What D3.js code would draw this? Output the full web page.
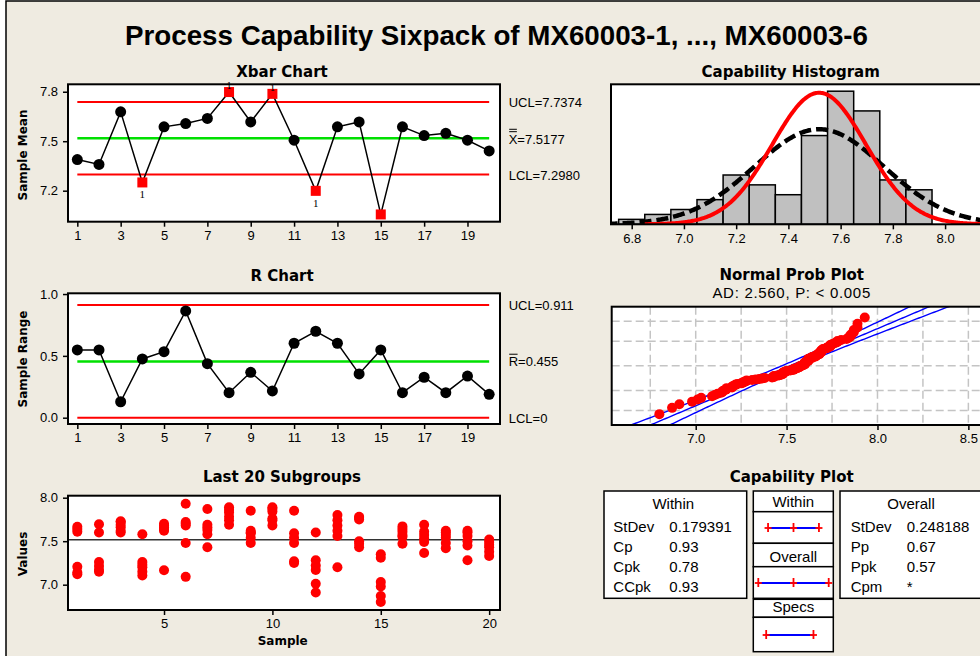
<!DOCTYPE html>
<html>
<head>
<meta charset="utf-8">
<script src="https://cdn.jsdelivr.net/npm/d3@7"></script>
<style>
  html, body { margin: 0; padding: 0; background: #fff; }
  svg { display: block; }
</style>
</head>
<body>
<svg id="chart" width="980" height="656"></svg>
<script>
// ---------------- data ----------------
const sampleNumbers = d3.range(1, 21);
const xbarValues = [7.389, 7.359, 7.678, 7.250, 7.587, 7.607, 7.638, 7.798, 7.617, 7.787,
                    7.506, 7.199, 7.587, 7.617, 7.056, 7.587, 7.534, 7.548, 7.506, 7.441];
const rangeValues = [0.548, 0.548, 0.129, 0.475, 0.534, 0.863, 0.437, 0.202, 0.367, 0.216,
                     0.602, 0.699, 0.602, 0.354, 0.548, 0.202, 0.327, 0.202, 0.337, 0.189];
const xbarUCL = 7.7374, xbarCenter = 7.5177, xbarLCL = 7.2980;
const rUCL = 0.911, rCenter = 0.455, rLCL = 0;

// six measurements (MX60003-1 ... MX60003-6) per subgroup
const subgroupValues = [
  [7.665, 7.64, 7.61, 7.205, 7.14, 7.12],
  [7.695, 7.60, 7.26, 7.215, 7.17, 7.148],
  [7.73, 7.72, 7.69, 7.66, 7.62, 7.60],
  [7.58, 7.26, 7.23, 7.20, 7.15, 7.105],
  [7.70, 7.68, 7.66, 7.64, 7.62, 7.166],
  [7.93, 7.72, 7.70, 7.68, 7.48, 7.09],
  [7.87, 7.69, 7.66, 7.63, 7.58, 7.43],
  [7.89, 7.86, 7.83, 7.78, 7.74, 7.69],
  [7.85, 7.62, 7.60, 7.59, 7.54, 7.48],
  [7.89, 7.87, 7.84, 7.76, 7.74, 7.68],
  [7.85, 7.59, 7.54, 7.48, 7.27, 7.25],
  [7.60, 7.28, 7.22, 7.17, 7.01, 6.91],
  [7.80, 7.74, 7.68, 7.62, 7.56, 7.20],
  [7.78, 7.77, 7.75, 7.50, 7.47, 7.43],
  [7.35, 7.31, 7.03, 6.98, 6.87, 6.80],
  [7.67, 7.64, 7.61, 7.57, 7.55, 7.47],
  [7.69, 7.61, 7.57, 7.53, 7.49, 7.365],
  [7.62, 7.60, 7.57, 7.54, 7.48, 7.42],
  [7.62, 7.60, 7.56, 7.50, 7.45, 7.28],
  [7.52, 7.49, 7.46, 7.43, 7.38, 7.33]
];

const histBinStart = 6.75;
const histBinWidth = 0.1;
const histCounts = [1, 2, 3, 5, 10, 8, 6, 18, 27, 23, 9, 7];

const processMean = 7.5177;
const withinStDev = 0.179391;
const overallStDev = 0.248188;
const specLSL = 6.94, specUSL = 7.94;

const withinStats = [["StDev", "0.179391"], ["Cp", "0.93"], ["Cpk", "0.78"], ["CCpk", "0.93"]];
const overallStats = [["StDev", "0.248188"], ["Pp", "0.67"], ["Ppk", "0.57"], ["Cpm", "*"]];

const xbarTicks = [1, 3, 5, 7, 9, 11, 13, 15, 17, 19];
const xbarYTicks = [7.2, 7.5, 7.8];
const rYTicks = [0.0, 0.5, 1.0];
const last20XTicks = [5, 10, 15, 20];
const last20YTicks = [7.0, 7.5, 8.0];
const histTicks = [6.8, 7.0, 7.2, 7.4, 7.6, 7.8, 8.0];
const probTicks = [7.0, 7.5, 8.0, 8.5];
const probGridX = [6.75, 7.0, 7.25, 7.5, 7.75, 8.0, 8.25, 8.5];
const probGridPercents = [1, 10, 50, 90, 99];
const adText = "AD: 2.560, P: < 0.005";

// ---------------- helpers ----------------
const svg = d3.select("#chart");
const defs = svg.append("defs");
const TXT = "'Liberation Sans', Arial, sans-serif";
const BOLD = "'DejaVu Sans', Verdana, sans-serif";
const RED = "#ff0000", GREEN = "#00e000", BLUE = "#0000ff";

function invNorm(p) {
  const a = [-3.969683028665376e+01, 2.209460984245205e+02, -2.759285104469687e+02, 1.383577518672690e+02, -3.066479806614716e+01, 2.506628277459239e+00];
  const b = [-5.447609879822406e+01, 1.615858368580409e+02, -1.556989798598866e+02, 6.680131188771972e+01, -1.328068155288572e+01];
  const c = [-7.784894002430293e-03, -3.223964580411365e-01, -2.400758277161838e+00, -2.549732539343734e+00, 4.374664141464968e+00, 2.938163982698783e+00];
  const d = [7.784695709041462e-03, 3.224671290700398e-01, 2.445134137142996e+00, 3.754408661907416e+00];
  const pl = 0.02425, ph = 1 - pl;
  let q, r;
  if (p < pl) {
    q = Math.sqrt(-2 * Math.log(p));
    return (((((c[0]*q+c[1])*q+c[2])*q+c[3])*q+c[4])*q+c[5]) / ((((d[0]*q+d[1])*q+d[2])*q+d[3])*q+1);
  }
  if (p <= ph) {
    q = p - 0.5; r = q * q;
    return (((((a[0]*r+a[1])*r+a[2])*r+a[3])*r+a[4])*r+a[5])*q / (((((b[0]*r+b[1])*r+b[2])*r+b[3])*r+b[4])*r+1);
  }
  q = Math.sqrt(-2 * Math.log(1 - p));
  return -(((((c[0]*q+c[1])*q+c[2])*q+c[3])*q+c[4])*q+c[5]) / ((((d[0]*q+d[1])*q+d[2])*q+d[3])*q+1);
}
const normPdf = (x, m, s) => Math.exp(-0.5 * ((x - m) / s) ** 2) / (s * Math.sqrt(2 * Math.PI));

let clipId = 0;
function panel(b) {
  const id = "clip" + (clipId++);
  defs.append("clipPath").attr("id", id).append("rect")
    .attr("x", b.x0).attr("y", b.y0).attr("width", b.x1 - b.x0).attr("height", b.y1 - b.y0);
  svg.append("rect").attr("x", b.x0).attr("y", b.y0).attr("width", b.x1 - b.x0).attr("height", b.y1 - b.y0)
    .attr("fill", "#fff");
  return svg.append("g").attr("clip-path", `url(#${id})`);
}
function border(b) {
  svg.append("rect").attr("x", b.x0).attr("y", b.y0).attr("width", b.x1 - b.x0).attr("height", b.y1 - b.y0)
    .attr("fill", "none").attr("stroke", "#000").attr("stroke-width", 2);
}
function styleAxis(a) {
  a.select(".domain").remove();
  a.selectAll("line").attr("stroke", "#000").attr("stroke-width", 1.5);
  a.selectAll("text").attr("font-family", TXT).attr("font-size", 13).attr("fill", "#000");
}
function bottomAxis(scale, ticks, y, fmt) {
  const a = svg.append("g").attr("transform", `translate(0,${y})`)
    .call(d3.axisBottom(scale).tickValues(ticks).tickSize(5).tickSizeOuter(0).tickPadding(4).tickFormat(fmt));
  styleAxis(a);
}
function leftAxis(scale, ticks, x, fmt) {
  const a = svg.append("g").attr("transform", `translate(${x},0)`)
    .call(d3.axisLeft(scale).tickValues(ticks).tickSize(5).tickSizeOuter(0).tickPadding(5).tickFormat(fmt));
  styleAxis(a);
}
function title(text, x, y) {
  svg.append("text").attr("x", x).attr("y", y).attr("text-anchor", "middle")
    .attr("font-family", BOLD).attr("font-weight", "bold").attr("font-size", 15).text(text);
}
function yLabel(text, cy) {
  svg.append("text").attr("transform", `translate(27,${cy}) rotate(-90)`).attr("text-anchor", "middle")
    .attr("font-family", BOLD).attr("font-weight", "bold").attr("font-size", 12).text(text);
}
function plainText(text, x, y, size, anchor) {
  return svg.append("text").attr("x", x).attr("y", y).attr("text-anchor", anchor || "start")
    .attr("font-family", TXT).attr("font-size", size).attr("fill", "#000").text(text);
}
// label with a bar (or double bar) over its first letter
function barredLabel(letter, rest, x, y, bars) {
  const t = plainText(letter, x, y, 13);
  const w = t.node().getComputedTextLength();
  plainText(rest, x + w, y, 13);
  for (let i = 0; i < bars; i++) {
    const yy = y - 12.2 - i * 2.4;
    svg.append("line").attr("x1", x + 0.5).attr("x2", x + w - 0.5).attr("y1", yy).attr("y2", yy)
      .attr("stroke", "#000").attr("stroke-width", 1);
  }
}

// ---------------- background ----------------
svg.append("rect").attr("x", 6).attr("y", 1).attr("width", 1000).attr("height", 700)
  .attr("fill", "#efebe1").attr("stroke", "#000").attr("stroke-width", 1.5);

svg.append("text").attr("x", 496.5).attr("y", 45).attr("text-anchor", "middle")
  .attr("font-family", "'Liberation Sans Narrow', 'Liberation Sans', Arial, sans-serif")
  .attr("font-weight", "bold").attr("font-size", 28)
  .attr("textLength", 743).attr("lengthAdjust", "spacingAndGlyphs")
  .text("Process Capability Sixpack of MX60003-1, ..., MX60003-6");

// shared sample scale
const xS = d3.scaleLinear().domain([0.57, 20.5]).range([68, 500]);

// ---------------- Xbar chart ----------------
const xbB = { x0: 68, y0: 84.3, x1: 500, y1: 221.7 };
const yXb = d3.scaleLinear().domain([7.012, 7.845]).range([xbB.y1, xbB.y0]);
const gXb = panel(xbB);
[[xbarUCL, RED, 2], [xbarLCL, RED, 2], [xbarCenter, GREEN, 2.5]].forEach(([v, col, w]) => {
  gXb.append("line").attr("x1", xS(1)).attr("x2", xS(20)).attr("y1", yXb(v)).attr("y2", yXb(v))
    .attr("stroke", col).attr("stroke-width", w);
});
gXb.append("path").datum(xbarValues)
  .attr("d", d3.line().x((d, i) => xS(i + 1)).y(d => yXb(d)))
  .attr("fill", "none").attr("stroke", "#000").attr("stroke-width", 1.5);
const flagLabels = [];
xbarValues.forEach((v, i) => {
  const out = v > xbarUCL || v < xbarLCL;
  const cx = xS(i + 1), cy = yXb(v);
  if (out) {
    gXb.append("rect").attr("x", cx - 5).attr("y", cy - 5).attr("width", 10).attr("height", 10).attr("fill", RED);
    // test-1 flag, shown only where it fits within the plot frame
    const ly = v > xbarUCL ? cy - 3 : cy + 16;
    if (ly <= xbB.y1) flagLabels.push([cx, ly]);
  } else {
    gXb.append("circle").attr("cx", cx).attr("cy", cy).attr("r", 5.5).attr("fill", "#000");
  }
});
border(xbB);
flagLabels.forEach(([x, y]) => {
  svg.append("text").attr("x", x).attr("y", y)
    .attr("text-anchor", "middle").attr("font-family", "'Liberation Serif', serif").attr("font-size", 11)
    .text("1");
});
bottomAxis(xS, xbarTicks, xbB.y1, d3.format("d"));
leftAxis(yXb, xbarYTicks, xbB.x0, d3.format(".1f"));
title("Xbar Chart", 282, 77.3);
yLabel("Sample Mean", 155);
plainText("UCL=" + xbarUCL.toFixed(4), 508.7, yXb(xbarUCL) + 4.6, 13);
barredLabel("X", "=" + xbarCenter.toFixed(4), 508.7, yXb(xbarCenter) + 5.6, 2);
plainText("LCL=" + xbarLCL.toFixed(4), 508.7, yXb(xbarLCL) + 5.6, 13);

// ---------------- R chart ----------------
const rB = { x0: 68, y0: 293.3, x1: 500, y1: 424 };
const yR = d3.scaleLinear().domain([-0.051, 1.006]).range([rB.y1, rB.y0]);
const gR = panel(rB);
[[rUCL, RED, 2], [rLCL, RED, 2], [rCenter, GREEN, 2.5]].forEach(([v, col, w]) => {
  gR.append("line").attr("x1", xS(1)).attr("x2", xS(20)).attr("y1", yR(v)).attr("y2", yR(v))
    .attr("stroke", col).attr("stroke-width", w);
});
gR.append("path").datum(rangeValues)
  .attr("d", d3.line().x((d, i) => xS(i + 1)).y(d => yR(d)))
  .attr("fill", "none").attr("stroke", "#000").attr("stroke-width", 1.5);
gR.selectAll("circle.r").data(rangeValues).enter().append("circle")
  .attr("cx", (d, i) => xS(i + 1)).attr("cy", d => yR(d)).attr("r", 5.5).attr("fill", "#000");
border(rB);
bottomAxis(xS, xbarTicks, rB.y1, d3.format("d"));
leftAxis(yR, rYTicks, rB.x0, d3.format(".1f"));
title("R Chart", 282, 280.7);
yLabel("Sample Range", 359);
plainText("UCL=" + rUCL.toFixed(3), 508.7, yR(rUCL) + 5, 13);
barredLabel("R", "=" + rCenter.toFixed(3), 508.7, yR(rCenter) + 5, 1);
plainText("LCL=" + rLCL, 508.7, yR(rLCL) + 5, 13);

// ---------------- Last 20 subgroups ----------------
const lB = { x0: 68, y0: 495.7, x1: 500, y1: 610 };
const yL = d3.scaleLinear().domain([6.709, 8.023]).range([lB.y1, lB.y0]);
const gL = panel(lB);
gL.append("line").attr("x1", lB.x0).attr("x2", lB.x1).attr("y1", yL(processMean)).attr("y2", yL(processMean))
  .attr("stroke", "#333").attr("stroke-width", 1.5);
subgroupValues.forEach((vals, i) => {
  gL.selectAll(null).data(vals).enter().append("circle")
    .attr("cx", xS(i + 1)).attr("cy", d => yL(d)).attr("r", 5).attr("fill", RED);
});
border(lB);
bottomAxis(xS, last20XTicks, lB.y1, d3.format("d"));
leftAxis(yL, last20YTicks, lB.x0, d3.format(".1f"));
title("Last 20 Subgroups", 282, 481.7);
yLabel("Values", 554);
svg.append("text").attr("x", 282.7).attr("y", 645).attr("text-anchor", "middle")
  .attr("font-family", BOLD).attr("font-weight", "bold").attr("font-size", 12).text("Sample");

// ---------------- Capability histogram ----------------
const hB = { x0: 611, y0: 84.3, x1: 990, y1: 224.3 };
const xH = d3.scaleLinear().domain([6.7207, 8.172]).range([hB.x0, hB.x1]);
const yH = d3.scaleLinear().domain([0, 28.4]).range([hB.y1, hB.y0]);
const gH = panel(hB);
gH.selectAll("rect.bar").data(histCounts).enter().append("rect")
  .attr("x", (d, i) => xH(histBinStart + i * histBinWidth))
  .attr("width", (d, i) => xH(histBinStart + (i + 1) * histBinWidth) - xH(histBinStart + i * histBinWidth))
  .attr("y", d => yH(d)).attr("height", d => yH(0) - yH(d))
  .attr("fill", "#c0c0c0").attr("stroke", "#000").attr("stroke-width", 1.5);
const nObs = d3.sum(subgroupValues, s => s.length);
const scaleCount = nObs * histBinWidth;
const curveLine = sd => d3.line().x(d => xH(d)).y(d => yH(scaleCount * normPdf(d, processMean, sd)));
gH.append("path").datum(d3.range(6.70, 8.25, 0.004))
  .attr("d", curveLine(overallStDev)).attr("fill", "none")
  .attr("stroke", "#000").attr("stroke-width", 4.5).attr("stroke-dasharray", "12,5");
gH.append("path").datum(d3.range(6.85, 8.25, 0.004))
  .attr("d", curveLine(withinStDev)).attr("fill", "none")
  .attr("stroke", RED).attr("stroke-width", 4);
border(hB);
bottomAxis(xH, histTicks, hB.y1, d3.format(".1f"));
title("Capability Histogram", 790.7, 77.3);

// ---------------- Normal probability plot ----------------
const pB = { x0: 611.7, y0: 306.7, x1: 990, y1: 425 };
const xP = d3.scaleLinear().domain([6.5378, 8.619]).range([pB.x0, pB.x1]);
const yP = d3.scaleLinear().domain([-3.09, 3.09]).range([pB.y1, pB.y0]);
const gP = panel(pB);
probGridX.forEach(v => {
  gP.append("line").attr("x1", xP(v)).attr("x2", xP(v)).attr("y1", pB.y0).attr("y2", pB.y1)
    .attr("stroke", "#c4c4c4").attr("stroke-width", 1.5).attr("stroke-dasharray", "8,4");
});
probGridPercents.forEach(pc => {
  const y = yP(invNorm(pc / 100));
  gP.append("line").attr("x1", pB.x0).attr("x2", pB.x1).attr("y1", y).attr("y2", y)
    .attr("stroke", "#c4c4c4").attr("stroke-width", 1.5).attr("stroke-dasharray", "8,4");
});
const zGrid = d3.range(-3.4, 3.41, 0.05);
const zCrit = invNorm(0.975);
const halfW = z => zCrit * overallStDev * Math.sqrt(1 / nObs + z * z / (2 * nObs));
[-1, 0, 1].forEach(sgn => {
  gP.append("path").datum(zGrid)
    .attr("d", d3.line().x(z => xP(processMean + z * overallStDev + sgn * halfW(z))).y(z => yP(z)))
    .attr("fill", "none").attr("stroke", BLUE).attr("stroke-width", 1.4);
});
const sortedObs = subgroupValues.flat().sort(d3.ascending);
gP.selectAll("circle.pp").data(sortedObs).enter().append("circle")
  .attr("cx", d => xP(d)).attr("cy", (d, i) => yP(invNorm((i + 1 - 0.3) / (nObs + 0.4))))
  .attr("r", 5).attr("fill", RED);
border(pB);
bottomAxis(xP, probTicks, pB.y1, d3.format(".1f"));
title("Normal Prob Plot", 791.7, 279.5);
plainText(adText, 791.7, 298, 15, "middle").attr("letter-spacing", 0.7);

// ---------------- Capability plot ----------------
title("Capability Plot", 791.7, 481.7);
function box(x0, y0, x1, y1) {
  svg.append("rect").attr("x", x0).attr("y", y0).attr("width", x1 - x0).attr("height", y1 - y0)
    .attr("fill", "#fff").attr("stroke", "#000").attr("stroke-width", 1.5);
}
// statistics boxes
box(604, 491, 746.7, 598.3);
plainText("Within", 673.3, 509.3, 15, "middle");
withinStats.forEach(([k, v], i) => {
  plainText(k, 613.3, 531.7 + i * 20.2, 15);
  plainText(v, 669.3, 531.7 + i * 20.2, 15);
});
box(840, 491, 1000, 598.3);
plainText("Overall", 911, 509.3, 15, "middle");
overallStats.forEach(([k, v], i) => {
  plainText(k, 850.7, 531.7 + i * 20.2, 15);
  plainText(v, 906.7, 531.7 + i * 20.2, 15);
});
// interval legend boxes
const xC = d3.scaleLinear()
  .domain([processMean - 3 * overallStDev, processMean + 3 * overallStDev]).range([758.3, 828.7]);
const intervals = [
  { name: "Within", pts: [processMean - 3 * withinStDev, processMean, processMean + 3 * withinStDev], top: 491, mid: 511.7, bot: 543.3 },
  { name: "Overall", pts: [processMean - 3 * overallStDev, processMean, processMean + 3 * overallStDev], top: 543.3, mid: 566.7, bot: 598.3 },
  { name: "Specs", pts: [specLSL, specUSL], top: 599.3, mid: 617.3, bot: 651.7 }
];
intervals.forEach(iv => {
  box(753.3, iv.top, 833.3, iv.mid);
  box(753.3, iv.mid, 833.3, iv.bot);
  plainText(iv.name, 793.3, iv.mid - 5, 15, "middle");
  const ly = (iv.mid + iv.bot) / 2 + 0.5;
  svg.append("line").attr("x1", xC(d3.min(iv.pts))).attr("x2", xC(d3.max(iv.pts)))
    .attr("y1", ly).attr("y2", ly).attr("stroke", BLUE).attr("stroke-width", 2);
  iv.pts.forEach(p => {
    svg.append("line").attr("x1", xC(p)).attr("x2", xC(p)).attr("y1", ly - 5).attr("y2", ly + 4)
      .attr("stroke", RED).attr("stroke-width", 1.8);
    svg.append("line").attr("x1", xC(p) - 3.5).attr("x2", xC(p) + 3.5).attr("y1", ly).attr("y2", ly)
      .attr("stroke", RED).attr("stroke-width", 1.8);
  });
});
</script>
</body>
</html>
